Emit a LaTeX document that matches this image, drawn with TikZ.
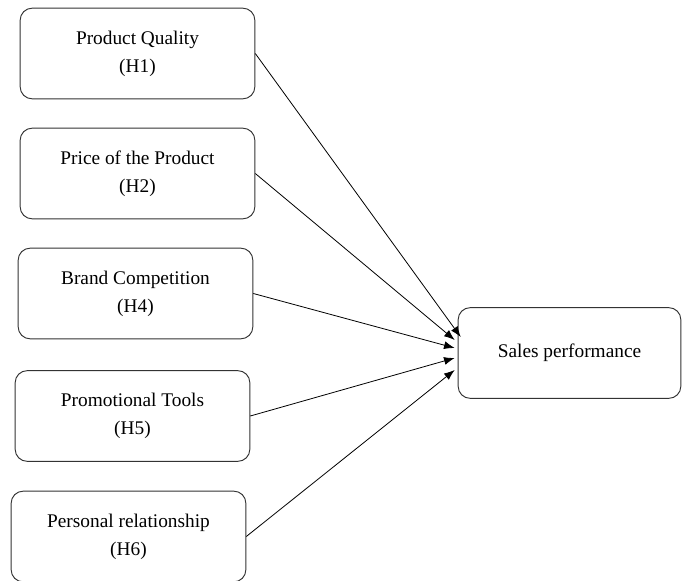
\documentclass[tikz,border=0pt]{standalone}
\usepackage{fontspec}
\setmainfont{Liberation Serif}
\usepackage{tikz}
\usetikzlibrary{positioning,calc,arrows.meta}

\begin{document}
\begin{tikzpicture}[x=0.75pt, y=-0.75pt,
    hyp/.style={draw=black!80, line width=0.7pt, rounded corners=9pt,
        minimum width=176pt, minimum height=68pt, align=center,
        font=\fontsize{14.5}{21}\selectfont},
    link/.style={-{Latex[length=8pt,width=6pt]}, line width=0.6pt}]
    \useasboundingbox (0,0) rectangle (682,581);

    % Hypotheses
    \node[hyp] (quality) at (137.5,53.5) {Product Quality\\(H1)};
    \node[hyp] (price) at (137.5,173.5) {Price of the Product\\(H2)};
    \node[hyp] (brand) at (135.5,293.5) {Brand Competition\\(H4)};
    \node[hyp] (promo) at (132.5,416) {Promotional Tools\\(H5)};
    \node[hyp] (personal) at (128.5,536.5) {Personal relationship\\(H6)};

    % Outcome
    \node[hyp, minimum width=167pt] (sales) at (569.5,353) {Sales performance};

    % Arrows into the outcome
    \draw[link] (quality.east) -- ([shift={(3,-16)}]sales.west);
    \draw[link] (price.east) -- ([shift={(-3,-13)}]sales.west);
    \draw[link] (brand.east) -- ([shift={(-3,-5)}]sales.west);
    \draw[link] (promo.east) -- ([shift={(-3,5)}]sales.west);
    \draw[link] (personal.east) -- ([shift={(-3,17)}]sales.west);
\end{tikzpicture}
\end{document}
